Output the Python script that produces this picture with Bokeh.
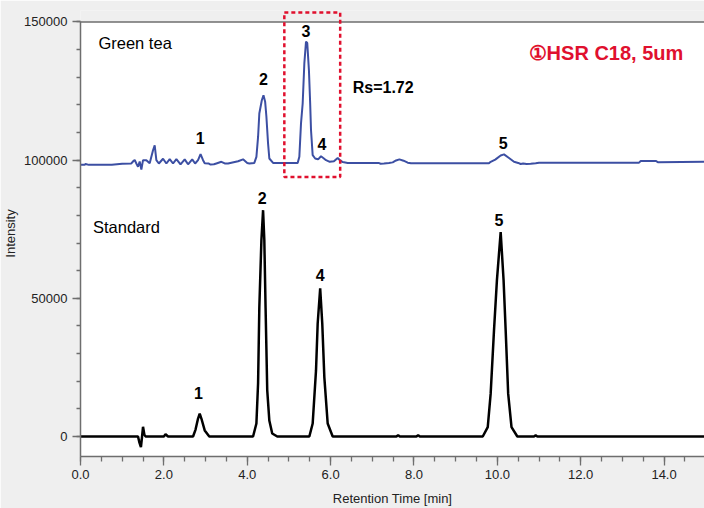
from bokeh.plotting import figure
from bokeh.models import (Range1d, FixedTicker, Span, BoxAnnotation, Label,
                          PrintfTickFormatter, ColumnDataSource)
from bokeh.embed import file_html
from bokeh.resources import INLINE

# ---------------- data ----------------
std_time = [0.0, 1.38, 1.41, 1.45, 1.47, 1.50, 1.53, 1.56, 2.00, 2.04, 2.10,
            2.70, 2.76, 2.82, 2.86, 2.90, 2.98, 3.09,
            4.14, 4.22, 4.26, 4.29, 4.34, 4.38, 4.41, 4.44, 4.48, 4.53, 4.60, 4.72,
            5.49, 5.57, 5.65, 5.69, 5.75, 5.80, 5.85, 5.93, 6.05,
            7.58, 7.62, 7.66, 8.06, 8.10, 8.14,
            9.65, 9.77, 9.84, 9.92, 9.99, 10.08, 10.15, 10.20, 10.26, 10.34, 10.48,
            10.88, 10.92, 10.96, 15.0]
std_intensity = [0, 0, -2000, -3800, -1000, 3500, 800, 0, 0, 800, 0,
                 0, 2500, 6500, 8300, 6500, 2200, 0,
                 0, 4700, 19200, 46700, 71000, 81900, 71000, 46700, 16700, 5800, 1100, 0,
                 0, 4700, 23900, 40900, 53600, 40900, 21400, 4700, 0,
                 0, 500, 0, 0, 500, 0,
                 0, 3400, 15500, 38400, 56500, 74000, 56500, 38400, 15500, 3400, 0,
                 0, 400, 0, 0]

tea_time = [0.0, 0.10, 0.12, 0.20, 0.75, 1.00, 1.22, 1.27, 1.30, 1.34, 1.38, 1.42,
            1.46, 1.50, 1.58, 1.66, 1.74, 1.78, 1.82, 1.88, 1.98, 2.06, 2.14, 2.22,
            2.30, 2.40, 2.50, 2.58, 2.68, 2.75, 2.82, 2.88, 2.94, 2.98, 3.07, 3.12,
            3.20, 3.26, 3.38, 3.46, 3.54, 3.78, 3.90, 4.00, 4.05, 4.17,
            4.22, 4.26, 4.29, 4.35, 4.39, 4.43, 4.46, 4.50, 4.53, 4.62,
            5.21, 5.25, 5.29, 5.33, 5.37, 5.41, 5.44, 5.48, 5.51, 5.53, 5.57, 5.63,
            5.70, 5.77, 5.84, 5.89, 5.98, 6.08, 6.17, 6.23, 6.29, 6.41,
            7.15, 7.20, 7.28, 7.40, 7.49, 7.57, 7.65, 7.75, 7.85, 7.93,
            9.80, 9.84, 9.95, 10.08, 10.16, 10.28, 10.40, 10.50, 10.56, 10.62,
            10.70, 10.80, 10.92, 11.00, 13.40, 13.44, 13.80, 13.86, 15.0]
tea_intensity = [98300, 98300, 98600, 98300, 98300, 98700, 98800, 99700, 100100, 98800,
                 97600, 99500, 96600, 100000, 100000, 98900, 103600, 105400, 100000,
                 98800, 100500, 98800, 100400, 98800, 100400, 98500, 100300, 98500,
                 100300, 98800, 100000, 102200, 100000, 98900, 98800, 98400, 98500,
                 98800, 99400, 98800, 98800, 99600, 100300, 99000, 98800, 99000,
                 101200, 108400, 116900, 121700, 123500, 121100, 115700, 106000, 100600, 99000,
                 99000, 101200, 113300, 120500, 135000, 142900, 142400, 132600, 120500,
                 110900, 101800, 100600,
                 100300, 101400, 100600, 100000, 99400, 99600, 100800, 99900, 99300, 99000,
                 99000, 98700, 98800, 99000, 99200, 99900, 100300, 99800, 99100, 98900,
                 98900, 99400, 100200, 101700, 102100, 100800, 99400, 99000, 98600, 98800,
                 98600, 98700, 98900, 99100, 99100, 99700, 99700, 99200, 99400]

peak_names_tea = ["1", "2", "3", "4", "5"]
peak_names_std = ["1", "2", "4", "5"]

x_major = [0, 2, 4, 6, 8, 10, 12, 14]
y_major = [0, 50000, 100000, 150000]

# ---------------- figure ----------------
BG = "#efefef"
AX = "#6e6e6e"
RED = "#e0102e"
FONT = "Liberation Sans"

p = figure(width=704, height=508, x_range=Range1d(0, 14.97), y_range=Range1d(-7240, 154160),
           output_backend="svg", toolbar_location=None,
           min_border_left=79, min_border_right=0, min_border_top=10, min_border_bottom=52)
p.background_fill_color = BG
p.border_fill_color = BG
p.outline_line_color = None
p.grid.visible = False

# white plotting region up to 150000
p.add_layout(BoxAnnotation(top=150000, fill_color="white", fill_alpha=1.0,
                           line_color=None, level="underlay"))

src_std = ColumnDataSource(dict(t=std_time, i=std_intensity))
src_tea = ColumnDataSource(dict(t=tea_time, i=tea_intensity))
p.line("t", "i", source=src_std, color="black", line_width=2.5)
p.line("t", "i", source=src_tea, color="#3c4fa3", line_width=2)

p.add_layout(Span(location=150000, dimension="width", line_color=AX, line_width=1.5))

# axes
p.xaxis.ticker = FixedTicker(ticks=x_major, minor_ticks=[k * 0.5 for k in range(0, 31)])
p.xaxis.formatter = PrintfTickFormatter(format="%.1f")
p.yaxis.ticker = FixedTicker(ticks=y_major, minor_ticks=list(range(0, 150001, 10000)))
p.yaxis.formatter = PrintfTickFormatter(format="%d")
p.yaxis.bounds = (-7240, 150000)

for ax in (p.xaxis[0], p.yaxis[0]):
    ax.axis_line_color = AX
    ax.axis_line_width = 1.5
    ax.major_tick_line_color = AX
    ax.minor_tick_line_color = AX
    ax.major_tick_line_width = 1.3
    ax.minor_tick_line_width = 1.3
    ax.major_tick_in = 0
    ax.minor_tick_in = 0
    ax.major_label_text_font = FONT
    ax.major_label_text_font_size = "13px"
    ax.major_label_text_color = "#222222"
    ax.axis_label_text_font = FONT
    ax.axis_label_text_font_size = "13px"
    ax.axis_label_text_font_style = "normal"
    ax.axis_label_text_color = "#222222"

p.xaxis.major_tick_out = 9
p.xaxis.minor_tick_out = 5
p.xaxis.major_label_standoff = 4
p.xaxis.axis_label = "Retention Time [min]"
p.xaxis.axis_label_standoff = 9

p.yaxis.major_tick_out = 8
p.yaxis.minor_tick_out = 4
p.yaxis.major_label_standoff = 5
p.yaxis.axis_label = "Intensity"
p.yaxis.axis_label_standoff = 3

# dashed box around peaks 3/4
p.add_layout(BoxAnnotation(left=4.89, right=6.23, top=153400, bottom=93900,
                           fill_alpha=0, line_color=RED, line_alpha=1.0, line_width=2.5,
                           line_dash="4 3", level="overlay"))

def lab(x, y, text, size="16px", style="bold", color="black", align="center"):
    p.add_layout(Label(x=x, y=y, text=text, text_font=FONT, text_font_size=size,
                       text_font_style=style, text_color=color, text_align=align,
                       text_baseline="middle"))

tea_lab_pos = [(2.87, 108000), (4.39, 129200), (5.41, 146600), (5.79, 105800), (10.14, 106300)]
std_lab_pos = [(2.83, 15900), (4.36, 86200), (5.75, 58300), (10.04, 78300)]
for n, (x, y) in zip(peak_names_tea, tea_lab_pos):
    lab(x, y, n)
for n, (x, y) in zip(peak_names_std, std_lab_pos):
    lab(x, y, n)

lab(0.43, 142300, "Green tea", size="16.5px", style="normal", align="left")
lab(0.30, 75800, "Standard", size="16.5px", style="normal", align="left")
lab(6.53, 126300, "Rs=1.72", size="16px", align="left")
lab(10.75, 138900, "\u2460HSR C18, 5um", size="20px", color=RED, align="left")

open("out.html", "w").write(file_html(p, INLINE))
